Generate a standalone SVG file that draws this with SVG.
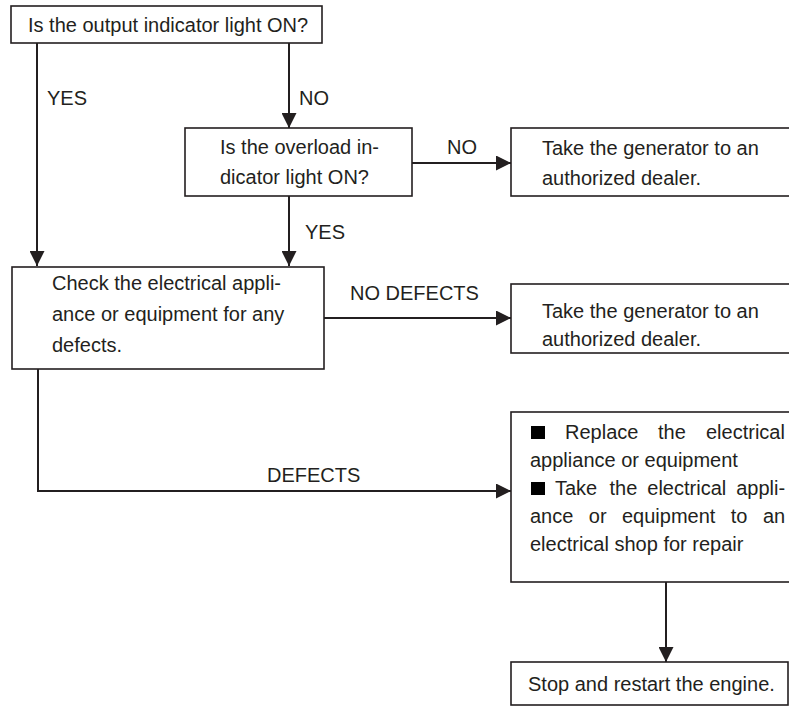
<svg xmlns="http://www.w3.org/2000/svg" width="789" height="708" viewBox="0 0 789 708">
  <defs>
    <style>
      .box { fill: #ffffff; stroke: #231f20; stroke-width: 1.6; }
      .txt { font-family: "Liberation Sans", Arial, sans-serif; font-size: 20px; fill: #231f20; }
      .conn { fill: none; stroke: #231f20; stroke-width: 2; }
      .bullet { fill: #000000; }
    </style>
    <marker id="arrow" markerUnits="userSpaceOnUse" markerWidth="15" markerHeight="15" refX="15" refY="7.5" orient="auto">
      <path d="M0,0 L15,7.5 L0,15 Z" fill="#231f20"/>
    </marker>
  </defs>
  <rect width="789" height="708" fill="#ffffff"/>

  <g id="connectors">
    <path class="conn" d="M37,43 V266" marker-end="url(#arrow)"/>
    <path class="conn" d="M289,43 V128" marker-end="url(#arrow)"/>
    <path class="conn" d="M412,163 H511" marker-end="url(#arrow)"/>
    <path class="conn" d="M289,196 V266" marker-end="url(#arrow)"/>
    <path class="conn" d="M324,318 H511" marker-end="url(#arrow)"/>
    <path class="conn" d="M38,369 V491 H511" marker-end="url(#arrow)"/>
    <path class="conn" d="M666,582 V662" marker-end="url(#arrow)"/>
    <text class="txt" x="47" y="105">YES</text>
    <text class="txt" x="299" y="105">NO</text>
    <text class="txt" x="447" y="154">NO</text>
    <text class="txt" x="305" y="239">YES</text>
    <text class="txt" x="350" y="300">NO DEFECTS</text>
    <text class="txt" x="267" y="482">DEFECTS</text>
  </g>

  <g id="q-output">
    <rect class="box" x="11" y="6" width="311" height="37"/>
    <text class="txt" x="28" y="32">Is the output indicator light ON?</text>
  </g>

  <g id="q-overload">
    <rect class="box" x="185" y="128" width="227" height="68"/>
    <text class="txt" x="220" y="154">Is the overload in-</text>
    <text class="txt" x="220" y="184">dicator light ON?</text>
  </g>

  <g id="dealer-1">
    <rect class="box" x="511" y="128" width="280" height="68"/>
    <text class="txt" x="542" y="155">Take the generator to an</text>
    <text class="txt" x="542" y="185">authorized dealer.</text>
  </g>

  <g id="check">
    <rect class="box" x="12" y="267" width="312" height="102"/>
    <text class="txt" x="52" y="290">Check the electrical appli-</text>
    <text class="txt" x="52" y="321">ance or equipment for any</text>
    <text class="txt" x="52" y="352">defects.</text>
  </g>

  <g id="dealer-2">
    <rect class="box" x="511" y="284" width="280" height="69"/>
    <text class="txt" x="542" y="318">Take the generator to an</text>
    <text class="txt" x="542" y="346">authorized dealer.</text>
  </g>

  <g id="replace">
    <rect class="box" x="511" y="412" width="280" height="170"/>
    <rect class="bullet" x="531" y="426" width="14" height="13"/>
    <text class="txt" y="439"><tspan x="565">Replace</tspan><tspan x="658">the</tspan><tspan x="706">electrical</tspan></text>
    <text class="txt" x="530" y="467">appliance or equipment</text>
    <rect class="bullet" x="531" y="482" width="14" height="13"/>
    <text class="txt" y="495"><tspan x="555">Take</tspan><tspan x="609.5">the</tspan><tspan x="647.3">electrical</tspan><tspan x="736.2">appli-</tspan></text>
    <text class="txt" y="523"><tspan x="530">ance</tspan><tspan x="588.8">or</tspan><tspan x="622">equipment</tspan><tspan x="730.8">to</tspan><tspan x="762.9">an</tspan></text>
    <text class="txt" x="530" y="551">electrical shop for repair</text>
  </g>

  <g id="restart">
    <rect class="box" x="511" y="662" width="277" height="43"/>
    <text class="txt" x="528" y="691">Stop and restart the engine.</text>
  </g>
</svg>
